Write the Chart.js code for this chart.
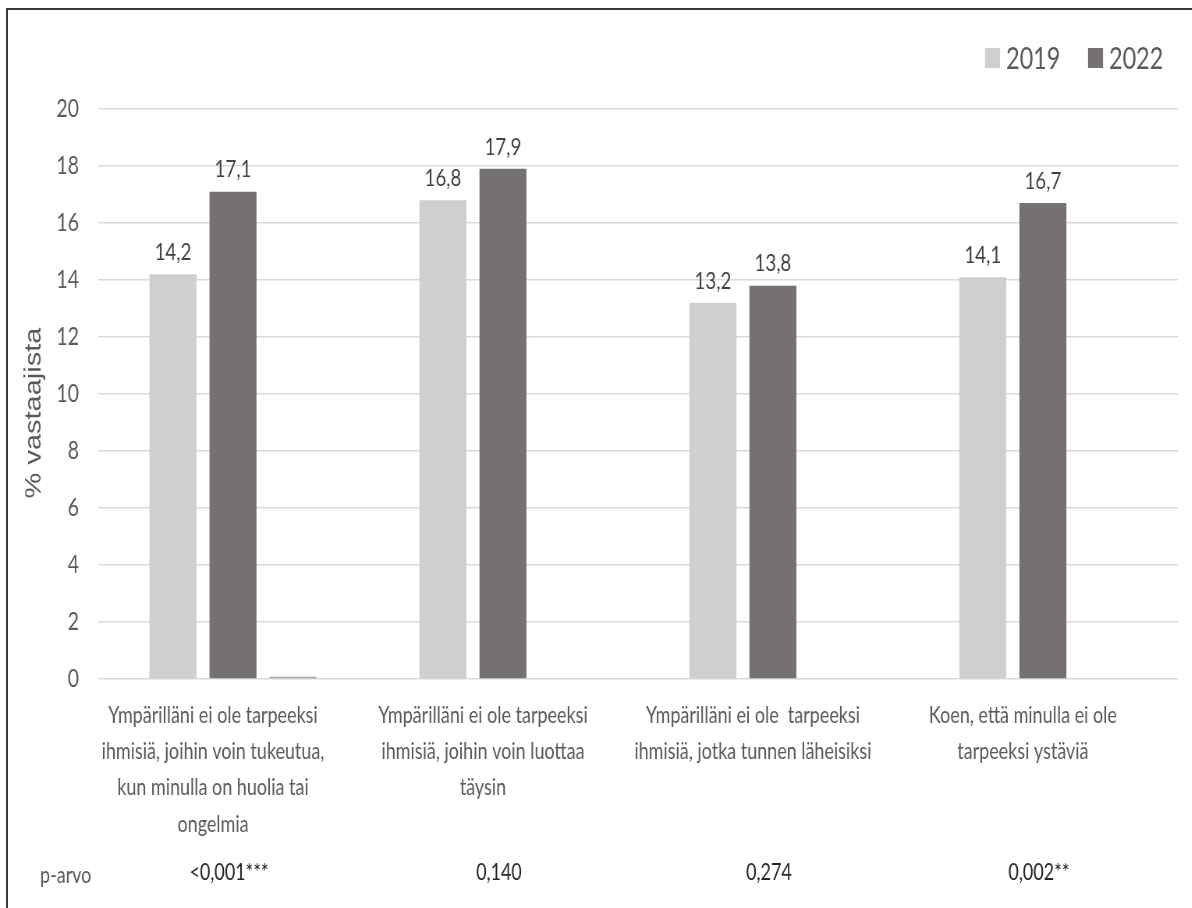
<!DOCTYPE html>
<html lang="fi">
<head>
<meta charset="utf-8">
<title>Sosiaalinen tuki 2019 ja 2022</title>
<script src="https://cdn.jsdelivr.net/npm/chart.js@4.4.1/dist/chart.umd.min.js"></script>
<style>
  html, body { margin: 0; padding: 0; background: #fff; overflow: hidden; }
  #wrap { position: relative; width: 1192px; height: 908px; overflow: hidden; }
  /* the chart is laid out wide and squeezed horizontally, which gives the
     tall, narrow lettering of the original spreadsheet export */
  #chart { display: block; transform: scaleX(0.78); transform-origin: 0 0; }
  #frame {
    position: absolute; left: 6px; top: 8px; right: -4px; bottom: -4px;
    border-top: 2px solid #3a3a3a; border-left: 2px solid #3a3a3a;
    pointer-events: none;
  }
</style>
</head>
<body>
<div id="wrap">
  <canvas id="chart" width="1528" height="908"></canvas>
  <div id="frame"></div>
</div>
<script>
// ── Data ────────────────────────────────────────────────────────
const categories = [
  ['Ympärilläni ei ole tarpeeksi', 'ihmisiä, joihin voin tukeutua,', 'kun minulla on huolia tai', 'ongelmia'],
  ['Ympärilläni ei ole tarpeeksi', 'ihmisiä, joihin voin luottaa', 'täysin'],
  ['Ympärilläni ei ole  tarpeeksi', 'ihmisiä, jotka tunnen läheisiksi'],
  ['Koen, että minulla ei ole', 'tarpeeksi ystäviä'],
];
const years = ['2019', '2022'];
const values2019 = [14.2, 16.8, 13.2, 14.1];
const values2022 = [17.1, 17.9, 13.8, 16.7];
// leftover empty series from the spreadsheet (a sliver in the first group only)
const valuesBlank = [0.08, null, null, null];
const pValues = ['<0,001***', '0,140', '0,274', '0,002**'];
const yTicks = [0, 2, 4, 6, 8, 10, 12, 14, 16, 18, 20];

// ── Styling ─────────────────────────────────────────────────────
const SX = 0.78;                 // horizontal squeeze applied by CSS
const px = v => v / SX;          // screen x-distance -> canvas units
const FONT = 'Lato, "Open Sans", sans-serif';
const TEXT = '#595959';
const COLORS = ['#d0cece', '#757171', '#a6a6a6'];

const fmt = v => v.toFixed(1).replace('.', ',');

// Value labels, p-value row, custom legend and the rotated axis title
const decorations = {
  id: 'decorations',
  afterDatasetsDraw(chart) {
    const { ctx, scales: { x } } = chart;
    ctx.save();

    // numbers above the 2019 / 2022 bars
    ctx.font = '24px ' + FONT;
    ctx.fillStyle = '#404040';
    ctx.textAlign = 'center';
    ctx.textBaseline = 'bottom';
    [0, 1].forEach(di => {
      chart.getDatasetMeta(di).data.forEach((bar, i) => {
        const v = chart.data.datasets[di].data[i];
        ctx.fillText(fmt(v), bar.x, bar.y - 10);
      });
    });

    // p-value row
    ctx.font = '23px ' + FONT;
    ctx.textBaseline = 'middle';
    ctx.fillStyle = TEXT;
    ctx.textAlign = 'left';
    ctx.fillText('p-arvo', px(40), 876);
    ctx.fillStyle = '#262626';
    ctx.textAlign = 'center';
    pValues.forEach((p, i) => ctx.fillText(p, x.getPixelForValue(i) - px(4), 873));

    // legend, top right
    ctx.font = '30px ' + FONT;
    ctx.textAlign = 'left';
    ctx.textBaseline = 'middle';
    let lx = px(985);
    years.forEach((label, i) => {
      ctx.fillStyle = COLORS[i];
      ctx.fillRect(lx, 48, px(15), 20);
      ctx.fillStyle = TEXT;
      ctx.fillText(label, lx + px(21), 59);
      lx += px(103);
    });

    // y axis title
    ctx.translate(px(34), 413);
    ctx.rotate(-Math.PI / 2);
    ctx.font = '29px "Liberation Sans", Arial, sans-serif';
    ctx.fillStyle = TEXT;
    ctx.textAlign = 'center';
    ctx.textBaseline = 'middle';
    ctx.fillText('% vastaajista', 0, 0);

    ctx.restore();
  },
};

new Chart(document.getElementById('chart'), {
  type: 'bar',
  data: {
    labels: categories,
    datasets: [
      { label: years[0], data: values2019, backgroundColor: COLORS[0] },
      { label: years[1], data: values2022, backgroundColor: COLORS[1] },
      { label: '', data: valuesBlank, backgroundColor: COLORS[2] },
    ],
  },
  options: {
    responsive: false,
    animation: false,
    categoryPercentage: 0.667,
    barPercentage: 0.783,
    layout: { padding: { top: 109, right: px(14), left: 0, bottom: 0 } },
    plugins: {
      legend: { display: false },
      tooltip: { enabled: false },
    },
    scales: {
      x: {
        grid: { display: false },
        border: { display: false },
        ticks: {
          color: TEXT,
          font: { family: FONT, size: 23, lineHeight: 1.58 },
          padding: 10,
          labelOffset: px(-20),
          maxRotation: 0,
          autoSkip: false,
        },
        afterFit: s => { s.height = 229; },
      },
      y: {
        min: 0,
        max: 20,
        afterBuildTicks: s => { s.ticks = yTicks.map(v => ({ value: v })); },
        grid: { color: '#d9d9d9', lineWidth: 1.5, drawTicks: false },
        border: { display: false },
        ticks: {
          color: TEXT,
          font: { family: FONT, size: 25 },
          padding: px(19),
        },
        afterFit: s => { s.width = px(98); },
      },
    },
  },
  plugins: [decorations],
});
</script>
</body>
</html>
